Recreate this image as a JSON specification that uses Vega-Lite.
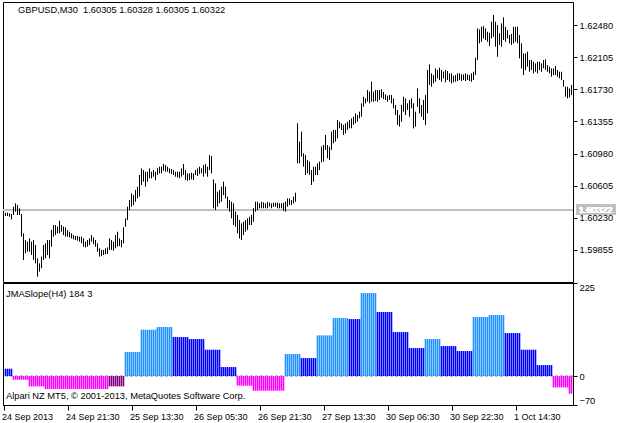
{
"$schema": "https://vega.github.io/schema/vega-lite/v6.json",
"background": "white",
"padding": {"left": 1, "top": 1, "right": 0, "bottom": 0},
"autosize": {"type": "pad"},
"spacing": -2,
"resolve": {"scale": {"color": "independent"}},
"config": {
  "view": {"stroke": "black", "strokeWidth": 1},
  "font": "Liberation Sans",
  "axis": {"labelFont": "Liberation Sans", "labelFontSize": 9.3, "labelColor": "black", "tickColor": "black", "domainColor": "black", "grid": false, "title": null, "labelOverlap": false, "labelBound": false},
  "title": {"font": "Liberation Sans", "fontSize": 9.3, "fontWeight": "normal", "color": "black", "subtitleFont": "Liberation Sans", "subtitleFontSize": 9.3, "subtitleColor": "black"}
},
"data": {"values": [
{"i":0,"h":1.60290,"l":1.60251,"s":17.7,"c":"b"},
{"i":1,"h":1.60290,"l":1.60251,"s":17.7,"c":"b"},
{"i":2,"h":1.60282,"l":1.60243,"s":17.7,"c":"b"},
{"i":3,"h":1.60274,"l":1.60212,"s":17.7,"c":"b"},
{"i":4,"h":1.60360,"l":1.60263,"s":-8.9,"c":"m"},
{"i":5,"h":1.60399,"l":1.60302,"s":-8.9,"c":"m"},
{"i":6,"h":1.60380,"l":1.60263,"s":-8.9,"c":"m"},
{"i":7,"h":1.60341,"l":1.60263,"s":-8.9,"c":"m"},
{"i":8,"h":1.60274,"l":1.60010,"s":-8.9,"c":"m"},
{"i":9,"h":1.60049,"l":1.59738,"s":-8.9,"c":"m"},
{"i":10,"h":1.59971,"l":1.59815,"s":-8.9,"c":"m"},
{"i":11,"h":1.59952,"l":1.59835,"s":-8.9,"c":"m"},
{"i":12,"h":1.59990,"l":1.59835,"s":-25,"c":"m"},
{"i":13,"h":1.59952,"l":1.59796,"s":-25,"c":"m"},
{"i":14,"h":1.59971,"l":1.59738,"s":-25,"c":"m"},
{"i":15,"h":1.59913,"l":1.59699,"s":-25,"c":"m"},
{"i":16,"h":1.59757,"l":1.59543,"s":-25,"c":"m"},
{"i":17,"h":1.59699,"l":1.59602,"s":-25,"c":"m"},
{"i":18,"h":1.59777,"l":1.59641,"s":-25,"c":"m"},
{"i":19,"h":1.59913,"l":1.59738,"s":-25,"c":"m"},
{"i":20,"h":1.59932,"l":1.59757,"s":-31.4,"c":"m"},
{"i":21,"h":1.59971,"l":1.59796,"s":-31.4,"c":"m"},
{"i":22,"h":1.59971,"l":1.59757,"s":-31.4,"c":"m"},
{"i":23,"h":1.60088,"l":1.59893,"s":-31.4,"c":"m"},
{"i":24,"h":1.60146,"l":1.60010,"s":-31.4,"c":"m"},
{"i":25,"h":1.60146,"l":1.60029,"s":-31.4,"c":"m"},
{"i":26,"h":1.60127,"l":1.60049,"s":-31.4,"c":"m"},
{"i":27,"h":1.60197,"l":1.60049,"s":-31.4,"c":"m"},
{"i":28,"h":1.60146,"l":1.60068,"s":-31.4,"c":"m"},
{"i":29,"h":1.60127,"l":1.60029,"s":-31.4,"c":"m"},
{"i":30,"h":1.60119,"l":1.60010,"s":-31.4,"c":"m"},
{"i":31,"h":1.60088,"l":1.60010,"s":-31.4,"c":"m"},
{"i":32,"h":1.60068,"l":1.60002,"s":-31.4,"c":"m"},
{"i":33,"h":1.60049,"l":1.59990,"s":-31.4,"c":"m"},
{"i":34,"h":1.60029,"l":1.59979,"s":-31.4,"c":"m"},
{"i":35,"h":1.60018,"l":1.59971,"s":-31.4,"c":"m"},
{"i":36,"h":1.60018,"l":1.59963,"s":-31.4,"c":"m"},
{"i":37,"h":1.60010,"l":1.59952,"s":-31.4,"c":"m"},
{"i":38,"h":1.60010,"l":1.59932,"s":-31.4,"c":"m"},
{"i":39,"h":1.59990,"l":1.59893,"s":-31.4,"c":"m"},
{"i":40,"h":1.59952,"l":1.59885,"s":-31.4,"c":"m"},
{"i":41,"h":1.59971,"l":1.59893,"s":-31.4,"c":"m"},
{"i":42,"h":1.59990,"l":1.59913,"s":-31.4,"c":"m"},
{"i":43,"h":1.60029,"l":1.59952,"s":-31.4,"c":"m"},
{"i":44,"h":1.60002,"l":1.59924,"s":-31.4,"c":"m"},
{"i":45,"h":1.59971,"l":1.59893,"s":-31.4,"c":"m"},
{"i":46,"h":1.59932,"l":1.59835,"s":-31.4,"c":"m"},
{"i":47,"h":1.59874,"l":1.59777,"s":-31.4,"c":"m"},
{"i":48,"h":1.59855,"l":1.59784,"s":-31.4,"c":"m"},
{"i":49,"h":1.59855,"l":1.59796,"s":-31.4,"c":"m"},
{"i":50,"h":1.59874,"l":1.59804,"s":-31.4,"c":"m"},
{"i":51,"h":1.59885,"l":1.59808,"s":-31.4,"c":"m"},
{"i":52,"h":1.59990,"l":1.59855,"s":-25,"c":"p"},
{"i":53,"h":1.59971,"l":1.59855,"s":-25,"c":"p"},
{"i":54,"h":1.59952,"l":1.59847,"s":-25,"c":"p"},
{"i":55,"h":1.60029,"l":1.59874,"s":-25,"c":"p"},
{"i":56,"h":1.60068,"l":1.59893,"s":-25,"c":"p"},
{"i":57,"h":1.59990,"l":1.59901,"s":-25,"c":"p"},
{"i":58,"h":1.59971,"l":1.59885,"s":-25,"c":"p"},
{"i":59,"h":1.60119,"l":1.59932,"s":-25,"c":"p"},
{"i":60,"h":1.60224,"l":1.60127,"s":58,"c":"a"},
{"i":61,"h":1.60360,"l":1.60204,"s":58,"c":"a"},
{"i":62,"h":1.60438,"l":1.60321,"s":58,"c":"a"},
{"i":63,"h":1.60516,"l":1.60360,"s":58,"c":"a"},
{"i":64,"h":1.60496,"l":1.60380,"s":58,"c":"a"},
{"i":65,"h":1.60555,"l":1.60418,"s":58,"c":"a"},
{"i":66,"h":1.60593,"l":1.60457,"s":58,"c":"a"},
{"i":67,"h":1.60730,"l":1.60477,"s":58,"c":"a"},
{"i":68,"h":1.60807,"l":1.60613,"s":112,"c":"a"},
{"i":69,"h":1.60788,"l":1.60652,"s":112,"c":"a"},
{"i":70,"h":1.60768,"l":1.60593,"s":112,"c":"a"},
{"i":71,"h":1.60768,"l":1.60652,"s":112,"c":"a"},
{"i":72,"h":1.60807,"l":1.60691,"s":112,"c":"a"},
{"i":73,"h":1.60768,"l":1.60691,"s":112,"c":"a"},
{"i":74,"h":1.60788,"l":1.60710,"s":112,"c":"a"},
{"i":75,"h":1.60768,"l":1.60671,"s":112,"c":"a"},
{"i":76,"h":1.60807,"l":1.60730,"s":118.5,"c":"a"},
{"i":77,"h":1.60827,"l":1.60749,"s":118.5,"c":"a"},
{"i":78,"h":1.60827,"l":1.60749,"s":118.5,"c":"a"},
{"i":79,"h":1.60858,"l":1.60780,"s":118.5,"c":"a"},
{"i":80,"h":1.60846,"l":1.60768,"s":118.5,"c":"a"},
{"i":81,"h":1.60827,"l":1.60768,"s":118.5,"c":"a"},
{"i":82,"h":1.60807,"l":1.60749,"s":118.5,"c":"a"},
{"i":83,"h":1.60800,"l":1.60741,"s":118.5,"c":"a"},
{"i":84,"h":1.60788,"l":1.60730,"s":94.3,"c":"b"},
{"i":85,"h":1.60768,"l":1.60710,"s":94.3,"c":"b"},
{"i":86,"h":1.60768,"l":1.60702,"s":94.3,"c":"b"},
{"i":87,"h":1.60768,"l":1.60691,"s":94.3,"c":"b"},
{"i":88,"h":1.60807,"l":1.60710,"s":94.3,"c":"b"},
{"i":89,"h":1.60858,"l":1.60730,"s":94.3,"c":"b"},
{"i":90,"h":1.60788,"l":1.60671,"s":94.3,"c":"b"},
{"i":91,"h":1.60749,"l":1.60663,"s":94.3,"c":"b"},
{"i":92,"h":1.60749,"l":1.60671,"s":89.5,"c":"b"},
{"i":93,"h":1.60757,"l":1.60679,"s":89.5,"c":"b"},
{"i":94,"h":1.60749,"l":1.60671,"s":89.5,"c":"b"},
{"i":95,"h":1.60788,"l":1.60730,"s":89.5,"c":"b"},
{"i":96,"h":1.60807,"l":1.60718,"s":89.5,"c":"b"},
{"i":97,"h":1.60827,"l":1.60741,"s":89.5,"c":"b"},
{"i":98,"h":1.60807,"l":1.60749,"s":89.5,"c":"b"},
{"i":99,"h":1.60846,"l":1.60710,"s":89.5,"c":"b"},
{"i":100,"h":1.60858,"l":1.60749,"s":63.7,"c":"b"},
{"i":101,"h":1.60827,"l":1.60710,"s":63.7,"c":"b"},
{"i":102,"h":1.60963,"l":1.60788,"s":63.7,"c":"b"},
{"i":103,"h":1.60951,"l":1.60749,"s":63.7,"c":"b"},
{"i":104,"h":1.60679,"l":1.60341,"s":63.7,"c":"b"},
{"i":105,"h":1.60632,"l":1.60321,"s":63.7,"c":"b"},
{"i":106,"h":1.60535,"l":1.60360,"s":63.7,"c":"b"},
{"i":107,"h":1.60555,"l":1.60399,"s":63.7,"c":"b"},
{"i":108,"h":1.60593,"l":1.60418,"s":21.8,"c":"b"},
{"i":109,"h":1.60652,"l":1.60496,"s":21.8,"c":"b"},
{"i":110,"h":1.60593,"l":1.60457,"s":21.8,"c":"b"},
{"i":111,"h":1.60477,"l":1.60341,"s":21.8,"c":"b"},
{"i":112,"h":1.60438,"l":1.60302,"s":21.8,"c":"b"},
{"i":113,"h":1.60418,"l":1.60224,"s":21.8,"c":"b"},
{"i":114,"h":1.60399,"l":1.60146,"s":21.8,"c":"b"},
{"i":115,"h":1.60302,"l":1.60127,"s":21.8,"c":"b"},
{"i":116,"h":1.60263,"l":1.60049,"s":-23.4,"c":"m"},
{"i":117,"h":1.60204,"l":1.59990,"s":-23.4,"c":"m"},
{"i":118,"h":1.60166,"l":1.59971,"s":-23.4,"c":"m"},
{"i":119,"h":1.60185,"l":1.60029,"s":-23.4,"c":"m"},
{"i":120,"h":1.60204,"l":1.60068,"s":-23.4,"c":"m"},
{"i":121,"h":1.60224,"l":1.60088,"s":-23.4,"c":"m"},
{"i":122,"h":1.60243,"l":1.60146,"s":-23.4,"c":"m"},
{"i":123,"h":1.60263,"l":1.60146,"s":-23.4,"c":"m"},
{"i":124,"h":1.60341,"l":1.60185,"s":-35.5,"c":"m"},
{"i":125,"h":1.60418,"l":1.60302,"s":-35.5,"c":"m"},
{"i":126,"h":1.60418,"l":1.60321,"s":-35.5,"c":"m"},
{"i":127,"h":1.60399,"l":1.60341,"s":-35.5,"c":"m"},
{"i":128,"h":1.60418,"l":1.60341,"s":-35.5,"c":"m"},
{"i":129,"h":1.60411,"l":1.60341,"s":-35.5,"c":"m"},
{"i":130,"h":1.60399,"l":1.60341,"s":-35.5,"c":"m"},
{"i":131,"h":1.60418,"l":1.60341,"s":-35.5,"c":"m"},
{"i":132,"h":1.60407,"l":1.60360,"s":-35.5,"c":"m"},
{"i":133,"h":1.60399,"l":1.60341,"s":-35.5,"c":"m"},
{"i":134,"h":1.60407,"l":1.60360,"s":-35.5,"c":"m"},
{"i":135,"h":1.60407,"l":1.60360,"s":-35.5,"c":"m"},
{"i":136,"h":1.60407,"l":1.60341,"s":-35.5,"c":"m"},
{"i":137,"h":1.60399,"l":1.60341,"s":-35.5,"c":"m"},
{"i":138,"h":1.60399,"l":1.60341,"s":-35.5,"c":"m"},
{"i":139,"h":1.60407,"l":1.60313,"s":-35.5,"c":"m"},
{"i":140,"h":1.60418,"l":1.60302,"s":53.2,"c":"a"},
{"i":141,"h":1.60457,"l":1.60360,"s":53.2,"c":"a"},
{"i":142,"h":1.60457,"l":1.60380,"s":53.2,"c":"a"},
{"i":143,"h":1.60438,"l":1.60380,"s":53.2,"c":"a"},
{"i":144,"h":1.60477,"l":1.60399,"s":53.2,"c":"a"},
{"i":145,"h":1.60523,"l":1.60418,"s":53.2,"c":"a"},
{"i":146,"h":1.61333,"l":1.60866,"s":53.2,"c":"a"},
{"i":147,"h":1.61119,"l":1.60866,"s":53.2,"c":"a"},
{"i":148,"h":1.61236,"l":1.60944,"s":43.5,"c":"b"},
{"i":149,"h":1.60983,"l":1.60827,"s":43.5,"c":"b"},
{"i":150,"h":1.60963,"l":1.60730,"s":43.5,"c":"b"},
{"i":151,"h":1.60905,"l":1.60749,"s":43.5,"c":"b"},
{"i":152,"h":1.60886,"l":1.60730,"s":43.5,"c":"b"},
{"i":153,"h":1.60788,"l":1.60613,"s":43.5,"c":"b"},
{"i":154,"h":1.60827,"l":1.60652,"s":43.5,"c":"b"},
{"i":155,"h":1.60827,"l":1.60730,"s":43.5,"c":"b"},
{"i":156,"h":1.60866,"l":1.60730,"s":98.3,"c":"a"},
{"i":157,"h":1.60886,"l":1.60788,"s":98.3,"c":"a"},
{"i":158,"h":1.61061,"l":1.60878,"s":98.3,"c":"a"},
{"i":159,"h":1.61080,"l":1.60886,"s":98.3,"c":"a"},
{"i":160,"h":1.61197,"l":1.61022,"s":98.3,"c":"a"},
{"i":161,"h":1.61080,"l":1.60925,"s":98.3,"c":"a"},
{"i":162,"h":1.61061,"l":1.60905,"s":98.3,"c":"a"},
{"i":163,"h":1.61236,"l":1.61022,"s":98.3,"c":"a"},
{"i":164,"h":1.61255,"l":1.61100,"s":140.2,"c":"a"},
{"i":165,"h":1.61255,"l":1.61119,"s":140.2,"c":"a"},
{"i":166,"h":1.61372,"l":1.61158,"s":140.2,"c":"a"},
{"i":167,"h":1.61352,"l":1.61275,"s":140.2,"c":"a"},
{"i":168,"h":1.61333,"l":1.61255,"s":140.2,"c":"a"},
{"i":169,"h":1.61314,"l":1.61197,"s":140.2,"c":"a"},
{"i":170,"h":1.61333,"l":1.61216,"s":140.2,"c":"a"},
{"i":171,"h":1.61352,"l":1.61255,"s":140.2,"c":"a"},
{"i":172,"h":1.61372,"l":1.61275,"s":137.8,"c":"b"},
{"i":173,"h":1.61391,"l":1.61275,"s":137.8,"c":"b"},
{"i":174,"h":1.61411,"l":1.61314,"s":137.8,"c":"b"},
{"i":175,"h":1.61450,"l":1.61333,"s":137.8,"c":"b"},
{"i":176,"h":1.61430,"l":1.61352,"s":137.8,"c":"b"},
{"i":177,"h":1.61469,"l":1.61391,"s":137.8,"c":"b"},
{"i":178,"h":1.61566,"l":1.61411,"s":200.7,"c":"a"},
{"i":179,"h":1.61644,"l":1.61527,"s":200.7,"c":"a"},
{"i":180,"h":1.61625,"l":1.61566,"s":200.7,"c":"a"},
{"i":181,"h":1.61722,"l":1.61586,"s":200.7,"c":"a"},
{"i":182,"h":1.61703,"l":1.61566,"s":200.7,"c":"a"},
{"i":183,"h":1.61819,"l":1.61586,"s":200.7,"c":"a"},
{"i":184,"h":1.61703,"l":1.61586,"s":200.7,"c":"a"},
{"i":185,"h":1.61722,"l":1.61594,"s":200.7,"c":"a"},
{"i":186,"h":1.61722,"l":1.61586,"s":154.8,"c":"b"},
{"i":187,"h":1.61722,"l":1.61605,"s":154.8,"c":"b"},
{"i":188,"h":1.61731,"l":1.61630,"s":154.8,"c":"b"},
{"i":189,"h":1.61700,"l":1.61615,"s":154.8,"c":"b"},
{"i":190,"h":1.61671,"l":1.61605,"s":154.8,"c":"b"},
{"i":191,"h":1.61655,"l":1.61585,"s":154.8,"c":"b"},
{"i":192,"h":1.61663,"l":1.61605,"s":154.8,"c":"b"},
{"i":193,"h":1.61663,"l":1.61566,"s":154.8,"c":"b"},
{"i":194,"h":1.61624,"l":1.61508,"s":106.4,"c":"b"},
{"i":195,"h":1.61547,"l":1.61430,"s":106.4,"c":"b"},
{"i":196,"h":1.61488,"l":1.61313,"s":106.4,"c":"b"},
{"i":197,"h":1.61430,"l":1.61294,"s":106.4,"c":"b"},
{"i":198,"h":1.61547,"l":1.61352,"s":106.4,"c":"b"},
{"i":199,"h":1.61644,"l":1.61469,"s":106.4,"c":"b"},
{"i":200,"h":1.61624,"l":1.61430,"s":106.4,"c":"b"},
{"i":201,"h":1.61566,"l":1.61488,"s":106.4,"c":"b"},
{"i":202,"h":1.61605,"l":1.61410,"s":67.7,"c":"b"},
{"i":203,"h":1.61624,"l":1.61508,"s":67.7,"c":"b"},
{"i":204,"h":1.61566,"l":1.61274,"s":67.7,"c":"b"},
{"i":205,"h":1.61469,"l":1.61294,"s":67.7,"c":"b"},
{"i":206,"h":1.61741,"l":1.61527,"s":67.7,"c":"b"},
{"i":207,"h":1.61624,"l":1.61449,"s":67.7,"c":"b"},
{"i":208,"h":1.61547,"l":1.61410,"s":67.7,"c":"b"},
{"i":209,"h":1.61605,"l":1.61371,"s":67.7,"c":"b"},
{"i":210,"h":1.61663,"l":1.61313,"s":89.5,"c":"a"},
{"i":211,"h":1.61955,"l":1.61449,"s":89.5,"c":"a"},
{"i":212,"h":1.62021,"l":1.61780,"s":89.5,"c":"a"},
{"i":213,"h":1.61916,"l":1.61760,"s":89.5,"c":"a"},
{"i":214,"h":1.61897,"l":1.61799,"s":89.5,"c":"a"},
{"i":215,"h":1.61974,"l":1.61819,"s":89.5,"c":"a"},
{"i":216,"h":1.61955,"l":1.61858,"s":89.5,"c":"a"},
{"i":217,"h":1.61982,"l":1.61838,"s":89.5,"c":"a"},
{"i":218,"h":1.61955,"l":1.61819,"s":72.5,"c":"b"},
{"i":219,"h":1.61936,"l":1.61858,"s":72.5,"c":"b"},
{"i":220,"h":1.61955,"l":1.61811,"s":72.5,"c":"b"},
{"i":221,"h":1.61943,"l":1.61838,"s":72.5,"c":"b"},
{"i":222,"h":1.61916,"l":1.61819,"s":72.5,"c":"b"},
{"i":223,"h":1.61916,"l":1.61799,"s":72.5,"c":"b"},
{"i":224,"h":1.61889,"l":1.61811,"s":72.5,"c":"b"},
{"i":225,"h":1.61897,"l":1.61819,"s":72.5,"c":"b"},
{"i":226,"h":1.61916,"l":1.61827,"s":60.5,"c":"b"},
{"i":227,"h":1.61916,"l":1.61838,"s":60.5,"c":"b"},
{"i":228,"h":1.61904,"l":1.61827,"s":60.5,"c":"b"},
{"i":229,"h":1.61904,"l":1.61838,"s":60.5,"c":"b"},
{"i":230,"h":1.61916,"l":1.61827,"s":60.5,"c":"b"},
{"i":231,"h":1.61904,"l":1.61838,"s":60.5,"c":"b"},
{"i":232,"h":1.61897,"l":1.61827,"s":60.5,"c":"b"},
{"i":233,"h":1.61916,"l":1.61819,"s":60.5,"c":"b"},
{"i":234,"h":1.61936,"l":1.61838,"s":142.7,"c":"a"},
{"i":235,"h":1.62099,"l":1.61897,"s":142.7,"c":"a"},
{"i":236,"h":1.62441,"l":1.62072,"s":142.7,"c":"a"},
{"i":237,"h":1.62429,"l":1.62266,"s":142.7,"c":"a"},
{"i":238,"h":1.62460,"l":1.62285,"s":142.7,"c":"a"},
{"i":239,"h":1.62468,"l":1.62324,"s":142.7,"c":"a"},
{"i":240,"h":1.62441,"l":1.62305,"s":142.7,"c":"a"},
{"i":241,"h":1.62402,"l":1.62285,"s":142.7,"c":"a"},
{"i":242,"h":1.62390,"l":1.62235,"s":147.5,"c":"a"},
{"i":243,"h":1.62519,"l":1.62324,"s":147.5,"c":"a"},
{"i":244,"h":1.62597,"l":1.62344,"s":147.5,"c":"a"},
{"i":245,"h":1.62519,"l":1.62227,"s":147.5,"c":"a"},
{"i":246,"h":1.62480,"l":1.62110,"s":147.5,"c":"a"},
{"i":247,"h":1.62383,"l":1.62247,"s":147.5,"c":"a"},
{"i":248,"h":1.62499,"l":1.62227,"s":147.5,"c":"a"},
{"i":249,"h":1.62569,"l":1.62305,"s":147.5,"c":"a"},
{"i":250,"h":1.62460,"l":1.62285,"s":104,"c":"b"},
{"i":251,"h":1.62422,"l":1.62324,"s":104,"c":"b"},
{"i":252,"h":1.62363,"l":1.62266,"s":104,"c":"b"},
{"i":253,"h":1.62375,"l":1.62247,"s":104,"c":"b"},
{"i":254,"h":1.62460,"l":1.62266,"s":104,"c":"b"},
{"i":255,"h":1.62460,"l":1.62285,"s":104,"c":"b"},
{"i":256,"h":1.62460,"l":1.62266,"s":104,"c":"b"},
{"i":257,"h":1.62363,"l":1.62091,"s":104,"c":"b"},
{"i":258,"h":1.62266,"l":1.61974,"s":63.7,"c":"b"},
{"i":259,"h":1.62149,"l":1.61896,"s":63.7,"c":"b"},
{"i":260,"h":1.62149,"l":1.61955,"s":63.7,"c":"b"},
{"i":261,"h":1.62169,"l":1.61994,"s":63.7,"c":"b"},
{"i":262,"h":1.62072,"l":1.61935,"s":63.7,"c":"b"},
{"i":263,"h":1.62072,"l":1.61955,"s":63.7,"c":"b"},
{"i":264,"h":1.62052,"l":1.61916,"s":63.7,"c":"b"},
{"i":265,"h":1.62033,"l":1.61935,"s":63.7,"c":"b"},
{"i":266,"h":1.62052,"l":1.61916,"s":26.6,"c":"b"},
{"i":267,"h":1.62052,"l":1.61955,"s":26.6,"c":"b"},
{"i":268,"h":1.62033,"l":1.61935,"s":26.6,"c":"b"},
{"i":269,"h":1.62072,"l":1.61974,"s":26.6,"c":"b"},
{"i":270,"h":1.62079,"l":1.61955,"s":26.6,"c":"b"},
{"i":271,"h":1.62013,"l":1.61935,"s":26.6,"c":"b"},
{"i":272,"h":1.61994,"l":1.61916,"s":26.6,"c":"b"},
{"i":273,"h":1.61974,"l":1.61877,"s":26.6,"c":"b"},
{"i":274,"h":1.61974,"l":1.61896,"s":-27.4,"c":"m"},
{"i":275,"h":1.62002,"l":1.61896,"s":-27.4,"c":"m"},
{"i":276,"h":1.61955,"l":1.61877,"s":-27.4,"c":"m"},
{"i":277,"h":1.61935,"l":1.61858,"s":-27.4,"c":"m"},
{"i":278,"h":1.61935,"l":1.61838,"s":-27.4,"c":"m"},
{"i":279,"h":1.61838,"l":1.61760,"s":-27.4,"c":"m"},
{"i":280,"h":1.61760,"l":1.61644,"s":-27.4,"c":"m"},
{"i":281,"h":1.61760,"l":1.61624,"s":-27.4,"c":"m"},
{"i":282,"h":1.61741,"l":1.61636,"s":-42.7,"c":"m"},
{"i":283,"h":1.61780,"l":1.61663,"s":-42.7,"c":"m"}
]},
"vconcat": [
 {
  "width": 570, "height": 280,
  "title": {"text": "GBPUSD,M30\u00a0 1.60305 1.60328 1.60305 1.60322", "anchor": "start", "frame": "group", "offset": -13, "dx": 15},
  "layer": [
   {"mark": {"type": "rule", "color": "#C0C0C0", "strokeWidth": 1},
    "encoding": {"y": {"datum": 1.60322, "type": "quantitative"}}},
   {"mark": {"type": "rule", "color": "black", "strokeWidth": 1},
    "encoding": {
     "x": {"field": "i", "type": "quantitative", "scale": {"domain": [-1.25, 283.75], "nice": false, "zero": false, "padding": 0}, "axis": null},
     "y": {"field": "h", "type": "quantitative", "scale": {"domain": [1.59481, 1.62749], "nice": false, "zero": false},
           "axis": {"orient": "right", "values": [1.59855, 1.6023, 1.60605, 1.6098, 1.61355, 1.6173, 1.62105, 1.6248], "tickCount": 20, "format": ".5f", "tickSize": 4, "labelPadding": 2, "labelOverlap": false}},
     "y2": {"field": "l"}}},
   {"mark": {"type": "rect", "color": "#C0C0C0"},
    "encoding": {"x": {"datum": 285.3, "type": "quantitative"}, "x2": {"datum": 304.8}, "y": {"datum": 1.60391, "type": "quantitative"}, "y2": {"datum": 1.60263}}},
   {"mark": {"type": "text", "color": "white", "align": "left", "baseline": "middle", "fontSize": 9.3, "font": "Liberation Sans"},
    "encoding": {"x": {"datum": 286.6, "type": "quantitative"}, "y": {"datum": 1.60325, "type": "quantitative"}, "text": {"value": "1.60322"}}}
  ]
 },
 {
  "width": 570, "height": 122,
  "title": {"text": "JMASlope(H4) 184 3", "subtitle": "Alpari NZ MT5, © 2001-2013, MetaQuotes Software Corp.", "subtitlePadding": 93, "anchor": "start", "frame": "group", "offset": -119, "dx": 3},
  "layer": [
   {"mark": {"type": "rule", "color": "#C0C0C0", "strokeWidth": 1, "strokeDash": [3, 2]},
    "encoding": {"y": {"datum": 0, "type": "quantitative"}}},
   {"mark": {"type": "bar", "width": 1.6},
    "encoding": {
     "x": {"field": "i", "type": "quantitative", "scale": {"domain": [-1.25, 283.75], "nice": false, "zero": false, "padding": 0},
           "axis": {"orient": "bottom", "values": [-1, 31, 63, 95, 127, 159, 191, 223, 255], "tickCount": 20, "labelExpr": "['24 Sep 2013','24 Sep 21:30','25 Sep 13:30','26 Sep 05:30','26 Sep 21:30','27 Sep 13:30','30 Sep 06:30','30 Sep 22:30','1 Oct 14:30'][round((datum.value+1)/32)]", "labelAlign": "left", "labelFlush": false, "tickSize": 5, "labelPadding": 2, "labelOffset": -2, "labelFontSize": 9}},
     "y": {"field": "s", "type": "quantitative", "scale": {"domain": [-70, 225], "nice": false, "zero": false},
           "axis": {"orient": "right", "values": [-70, 0, 225], "tickCount": 10, "labelFlush": true, "tickSize": 4, "labelPadding": 2}},
     "y2": {"datum": 0},
     "fill": {"field": "c", "type": "nominal", "scale": {"domain": ["a", "b", "m", "p"], "range": ["#1E90FF", "#0000FF", "#FF00FF", "#800080"]}, "legend": null}}}
  ]
 }
]
}
